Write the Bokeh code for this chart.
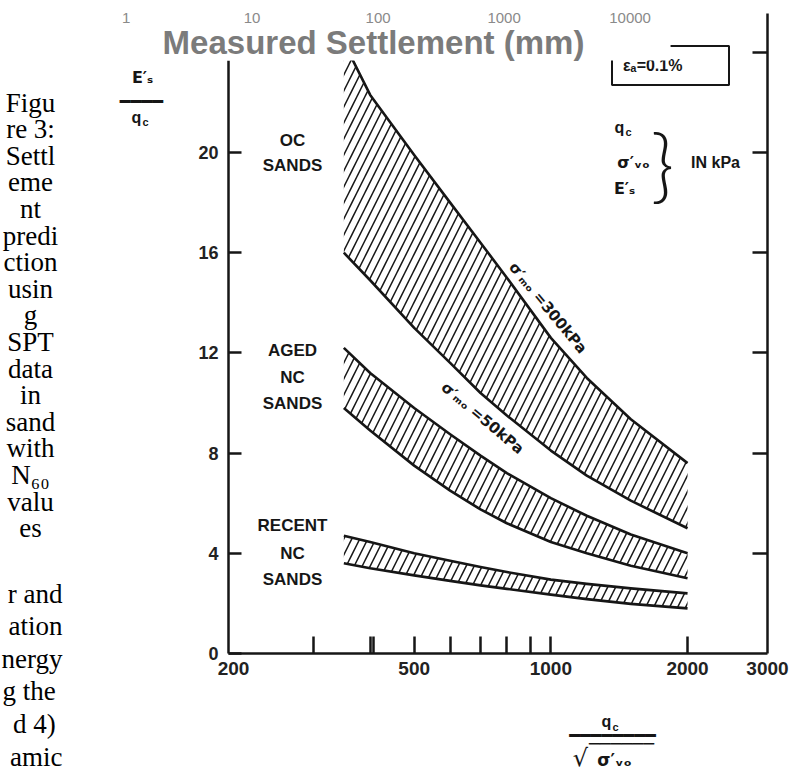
import math
from bokeh.plotting import figure
from bokeh.models import Range1d, LinearAxis, LogAxis, FixedTicker, Label, BoxAnnotation
from bokeh.embed import file_html
from bokeh.resources import INLINE

# ---------------- data ----------------
qn = [350, 400, 500, 600, 700, 800, 1000, 1200, 1500, 2000]          # q_c / sqrt(sigma'_vo)
oc_upper = [24.4, 22.3, 19.9, 18.0, 16.4, 15.0, 12.6, 11.0, 9.35, 7.6]  # sigma'_mo = 300 kPa
oc_lower = [16.0, 14.9, 13.0, 11.6, 10.4, 9.5, 8.1, 7.1, 6.1, 5.0]
aged_upper = [12.2, 11.2, 9.8, 8.75, 7.9, 7.2, 6.2, 5.5, 4.75, 4.0]     # sigma'_mo = 50 kPa
aged_lower = [9.8, 8.9, 7.5, 6.5, 5.75, 5.2, 4.45, 4.0, 3.5, 3.0]
recent_upper = [4.7, 4.45, 4.0, 3.7, 3.45, 3.25, 2.95, 2.78, 2.6, 2.4]
recent_lower = [3.6, 3.4, 3.12, 2.9, 2.72, 2.58, 2.35, 2.17, 1.98, 1.8]

x_label_ticks = [200, 500, 1000, 2000, 3000]
x_minor_ticks = [300, 400, 406, 500, 600, 700, 800, 900, 1000, 2000]
y_ticks = [0, 4, 8, 12, 16, 20]
right_ticks = [4, 8, 12, 16, 20, 24]
top_ticks = [1, 10, 100, 1000, 10000]
top_title = "Measured Settlement (mm)"
caption_lines = ["Figu", "re 3:", "Settl", "eme", "nt", "predi", "ction", "usin", "g",
                 "SPT", "data", "in", "sand", "with", "N₆₀", "valu", "es"]
body_lines = ["r and", "ation", "nergy", "g  the", "d  4)", "amic"]

# ---------------- geometry (canvas px) ----------------
W, H = 795, 772
PX_L, PX_R, PX_T, PX_B = 228, 767, 13, 653      # box of the scanned chart
X_LO, X_HI = 195, 3000
Y_TOP = 25.55
ppd = (PX_R - PX_L) / math.log10(X_HI / X_LO)    # px per decade
ppu = (PX_B - PX_T) / Y_TOP                      # px per unit of E/q
x_start = X_LO * 10 ** (-PX_L / ppd)
x_end = X_LO * 10 ** ((W - PX_L) / ppd)
y_start = -(H - PX_B) / ppu
y_end = PX_B / ppu
INK = "#161616"

p = figure(width=W, height=H, x_axis_type="log", x_axis_location=None, y_axis_location=None,
           x_range=Range1d(x_start, x_end), y_range=Range1d(y_start, y_end),
           output_backend="svg", toolbar_location=None, title=None,
           min_border_left=0, min_border_right=0, min_border_top=0, min_border_bottom=0)
p.outline_line_color = None
p.background_fill_color = "white"
p.border_fill_color = "white"
p.grid.visible = False

axis_style = dict(axis_line_width=2.5, axis_line_color=INK, major_tick_line_width=2.5,
                  major_tick_line_color=INK, minor_tick_line_width=2.5,
                  minor_tick_line_color=INK, major_label_text_font="Liberation Sans",
                  major_label_text_font_style="bold", major_label_text_color="#222222")

# bottom axis of the scanned chart
xa = LogAxis(fixed_location=0, bounds=(X_LO, X_HI),
             ticker=FixedTicker(ticks=x_label_ticks, minor_ticks=x_minor_ticks),
             major_label_overrides={t: str(t) for t in x_label_ticks},
             major_tick_in=0, major_tick_out=0, minor_tick_in=17, minor_tick_out=0,
             major_label_text_font_size="19px", major_label_standoff=8, **axis_style)
p.add_layout(xa, "below")

# left axis
ya = LinearAxis(fixed_location=X_LO, bounds=(0, 23.67), ticker=FixedTicker(ticks=y_ticks),
                major_tick_in=13, major_tick_out=0, minor_tick_in=0, minor_tick_out=0,
                major_label_text_font_size="18px", major_label_standoff=10, **axis_style)
p.add_layout(ya, "left")

# right axis (ticks only)
ra = LinearAxis(fixed_location=X_HI, bounds=(0, Y_TOP),
                ticker=FixedTicker(ticks=[], minor_ticks=right_ticks),
                major_tick_in=0, major_tick_out=0, minor_tick_in=15, minor_tick_out=0,
                **axis_style)
p.add_layout(ra, "right")

# hatched bands
for lo, hi in [(oc_lower, oc_upper), (aged_lower, aged_upper), (recent_lower, recent_upper)]:
    p.varea(x=qn, y1=lo, y2=hi, fill_alpha=0, hatch_pattern="/", hatch_color=INK,
            hatch_weight=1.5, hatch_scale=16)
for ys in [oc_upper, oc_lower, aged_upper, aged_lower, recent_upper, recent_lower]:
    p.line(qn, ys, line_width=2.6, line_color=INK, line_join="round")

# ---------------- text helper (picture px -> screen px of the full-canvas frame) ----------------
def lab(text, rx, ry, size, font="Liberation Sans", style="bold", color=INK,
        align="center", baseline="middle", **kw):
    lb = Label(x=rx, y=H - ry, x_units="screen", y_units="screen",
               text=text, text_font=font, text_font_style=style,
               text_font_size=f"{size}px", text_color=color,
               text_align=align, text_baseline=baseline, **kw)
    p.add_layout(lb)
    return lb

# region names
for txt, ry in [("OC", 140), ("SANDS", 165), ("AGED", 350), ("NC", 377), ("SANDS", 403),
                ("RECENT", 525), ("NC", 553), ("SANDS", 579)]:
    lab(txt, 292, ry, 17)

# sigma'_mo labels along the bands (data placed)
p.add_layout(Label(x=985, y=13.8, text="σ′ₘₒ =300kPa", angle=-0.88, text_font="DejaVu Sans",
                   text_font_style="bold", text_font_size="15px", text_color=INK,
                   text_align="center", text_baseline="middle"))
p.add_layout(Label(x=707, y=9.4, text="σ′ₘₒ =50kPa", angle=-0.70, text_font="DejaVu Sans",
                   text_font_style="bold", text_font_size="15px", text_color=INK,
                   text_align="center", text_baseline="middle"))

# strain box
lab("    εₐ=0.1%    ", 670, 65, 16, border_line_color=INK, border_line_width=2,
    background_fill_color="white", padding=11)

# white overlay of the page above the scan
p.add_layout(BoxAnnotation(right=1835, bottom=23.67, fill_color="white", fill_alpha=1,
                           line_color=None))

# units block
lab("q", 619, 127, 16)
lab("c", 628, 131, 11)
lab("σ′ᵥₒ", 633, 162, 16, font="DejaVu Sans")
lab("E′ₛ", 624, 188, 16, font="DejaVu Sans")
lab("}", 662, 161, 80, font="Lato Light, Lato", style="normal")
lab("IN kPa", 715, 162, 16)

# y-axis label (fraction)
lab("E′ₛ", 142, 77, 16, font="DejaVu Sans")
lab("━━━━", 141, 101, 18, font="DejaVu Sans Mono", style="normal")
lab("q", 136, 117, 16)
lab("c", 145, 121, 11)

# x-axis label (fraction)
lab("q", 606, 721, 16)
lab("c", 615, 726, 11)
lab("━━━━━━━━", 612, 735, 18, font="DejaVu Sans Mono", style="normal")
lab("──────", 621, 743, 18, font="DejaVu Sans Mono", style="normal")
lab("√", 580, 757, 24, font="DejaVu Sans", style="normal")
lab("σ′ᵥₒ", 614, 759, 17, font="DejaVu Sans")

# top overlay texts of the page
for v in top_ticks:
    lab(str(v), 377.6 + 126 * (math.log10(v) - 2), 17, 15, style="normal", color="#8a8a8a")
lab(top_title, 373, 42, 33, color="#7b7b7b")

# left column text of the page
for i, t in enumerate(caption_lines):
    lab(t, 30, 102 + 26.6 * i, 27, font="Liberation Serif", style="normal", color="#000000")
for i, t in enumerate(body_lines):
    lab(t, 62, 593 + 32.6 * i, 27, font="Liberation Serif", style="normal", color="#000000",
        align="right")

open("out.html", "w").write(file_html(p, INLINE))
